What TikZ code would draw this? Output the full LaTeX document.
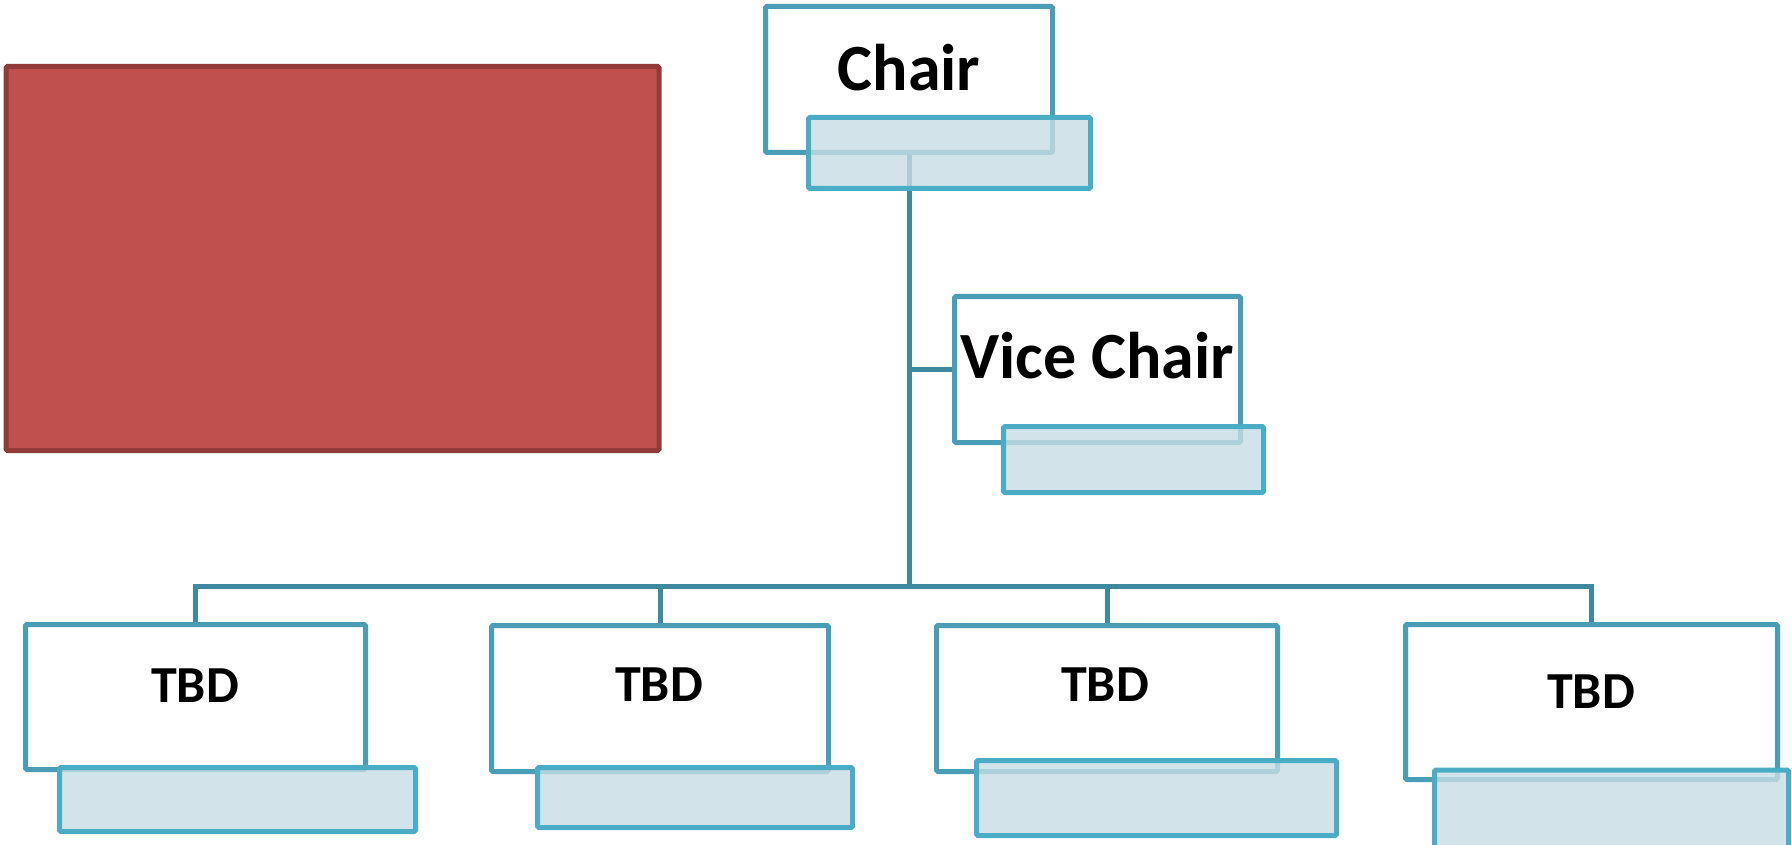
\documentclass[tikz,border=0pt]{standalone}
\usepackage{fontspec}
\setmainfont{Carlito}
\usetikzlibrary{backgrounds}
\begin{document}
\begin{tikzpicture}[x=1pt,y=-1pt]
\definecolor{tealbox}{HTML}{4A9DB6}
\definecolor{tealshade}{HTML}{4BACC6}
\definecolor{shadefill}{HTML}{C7DDE5}
\definecolor{conncol}{HTML}{3E899E}
\definecolor{redfill}{HTML}{C0504D}
\definecolor{redline}{HTML}{923A38}
\tikzset{
  whitebox/.style={draw=tealbox, fill=white, line width=5pt, rounded corners=1.5pt, inner sep=0pt},
  shadebox/.style={draw=tealshade, fill=shadefill, fill opacity=0.8, line width=5pt, rounded corners=1.5pt, inner sep=0pt},
  conn/.style={draw=conncol, line width=5pt},
  lblbig/.style={font=\fontsize{66}{78}\selectfont\bfseries, inner sep=0pt, anchor=base},
  lblsmall/.style={font=\fontsize{52}{62}\selectfont\bfseries, inner sep=0pt, anchor=base},
}
\useasboundingbox (0,0) rectangle (1792,845);
% red block
\node[draw=redline, fill=redfill, line width=5pt, rounded corners=1.5pt, minimum width=653pt, minimum height=384pt, inner sep=0pt] (red) at (332.5,258.5) {};
% white boxes
\node[whitebox, minimum width=287pt, minimum height=146pt] (chair) at (909,79.5) {};
\node[whitebox, minimum width=286pt, minimum height=146pt] (vice) at (1097.5,369.5) {};
\node[whitebox, minimum width=340pt, minimum height=145pt] (t1) at (195.5,697) {};
\node[whitebox, minimum width=337pt, minimum height=146pt] (t2) at (660,698.5) {};
\node[whitebox, minimum width=341pt, minimum height=146pt] (t3) at (1107,698.5) {};
\node[whitebox, minimum width=372pt, minimum height=155pt] (t4) at (1591.5,702) {};
% labels
\node[lblbig] (chairT) at (909,91) {Chair};
\node[lblbig] (viceT) at (1097,378) {Vice Chair};
\node[lblsmall] (t1T) at (195,702) {TBD};
\node[lblsmall] (t2T) at (659,701) {TBD};
\node[lblsmall] (t3T) at (1105,701) {TBD};
\node[lblsmall] (t4T) at (1591,708) {TBD};
% connectors behind
\coordinate (bus) at (909,586);
\begin{scope}[on background layer]
\draw[conn] (chair.center) -- (bus);
\draw[conn] (vice.west) -- (vice.west -| chair.center);
\draw[conn] (t1.north) -- (t1.north |- bus) -- (t4.north |- bus) -- (t4.north);
\draw[conn] (t2.north) -- (t2.north |- bus);
\draw[conn] (t3.north) -- (t3.north |- bus);
\end{scope}
% shaded boxes
\node[shadebox, minimum width=282pt, minimum height=71pt] (chairS) at (949.5,153) {};
\node[shadebox, minimum width=260pt, minimum height=66pt] (viceS) at (1133.5,459.5) {};
\node[shadebox, minimum width=356pt, minimum height=64pt] (t1S) at (237.5,799.5) {};
\node[shadebox, minimum width=315pt, minimum height=60pt] (t2S) at (695,797.5) {};
\node[shadebox, minimum width=360pt, minimum height=75pt] (t3S) at (1156.5,798) {};
\node[shadebox, minimum width=354pt, minimum height=84pt] (t4S) at (1611.5,812) {};
\end{tikzpicture}
\end{document}
